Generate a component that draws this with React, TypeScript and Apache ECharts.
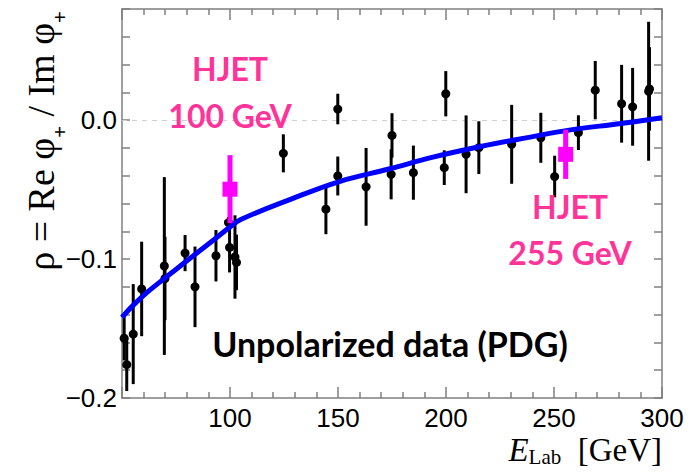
import React, { useEffect, useRef } from "react";
import * as echarts from "echarts";

// PDG unpolarized data: beam energy (GeV), rho, error
const pdgE = [51.0, 52.2, 55.2, 59.1, 69.6, 69.9, 79.2, 83.8, 93.5, 99.3, 99.8, 102.3, 103.0, 124.7, 144.4, 149.9, 149.9, 163.0, 175.0, 174.6, 184.9, 199.9, 199.2, 209.3, 215.2, 230.4, 243.9, 250.3, 261.3, 269.1, 281.3, 286.4, 293.8, 294.2];
const pdgRho = [-0.157, -0.176, -0.154, -0.1215, -0.105, -0.114, -0.0957, -0.12, -0.0976, -0.0737, -0.0916, -0.0985, -0.1024, -0.0239, -0.0641, 0.008, -0.0402, -0.048, -0.011, -0.039, -0.0378, 0.019, -0.0342, -0.0246, -0.0198, -0.0174, -0.0127, -0.0406, -0.009, 0.0216, 0.0118, 0.0096, 0.0208, 0.0225];
const pdgErr = [0.016, 0.019, 0.036, 0.034, 0.064, 0.03, 0.013, 0.029, 0.0185, 0.004, 0.018, 0.03, 0.02, 0.0137, 0.018, 0.011, 0.014, 0.028, 0.016, 0.018, 0.0195, 0.0163, 0.0125, 0.028, 0.019, 0.0284, 0.018, 0.015, 0.0125, 0.021, 0.028, 0.028, 0.05, 0.03];

// HJET measurements
const hjetE = [100, 255.4];
const hjetRho = [-0.0497, -0.0246];
const hjetErr = [0.0245, 0.0177];

// Fit curve
const fitE = [50, 55, 62, 70, 79, 93, 100, 105, 128, 151, 174, 193, 216, 239, 257, 281, 300];
const fitRho = [-0.142, -0.1335, -0.1235, -0.1135, -0.1025, -0.0855, -0.077, -0.0715, -0.057, -0.044, -0.035, -0.027, -0.019, -0.0122, -0.0072, -0.0024, 0.0017];

const xMin = 50;
const xMax = 300;
const yMin = -0.2;
const yMax = 0.08;

const AXIS_COLOR = "#7f7f7f";
const SANS = "'Liberation Sans', Arial, sans-serif";
const SERIF = "'Liberation Serif', 'Times New Roman', serif";
const BOLD = "Lato, 'Open Sans', sans-serif";
const PINK = "#ff3399";

function yLabel(v: number): string {
  const r = Math.round(v * 100) / 100;
  if (Math.abs(r * 10 - Math.round(r * 10)) > 1e-6) return "";
  if (Math.abs(r) < 1e-9) return "0.0";
  return (r < 0 ? "\u2212" : "") + Math.abs(r).toFixed(1);
}

export default function App() {
  const ref = useRef<HTMLDivElement>(null);
  useEffect(() => {
    if (!ref.current) return;
    const chart = echarts.init(ref.current, null, { renderer: "svg" });

    const xCommon = {
      type: "value",
      min: xMin,
      max: xMax,
      interval: 50,
      axisLine: { show: true, onZero: false, lineStyle: { color: AXIS_COLOR, width: 1.5 } },
      axisTick: { show: true, inside: true, length: 11, lineStyle: { color: AXIS_COLOR, width: 1.5 } },
      minorTick: { show: true, splitNumber: 5, length: 6, lineStyle: { color: AXIS_COLOR, width: 1.5 } },
      splitLine: { show: false },
      minorSplitLine: { show: false },
    };
    const yCommon = {
      type: "value",
      min: yMin,
      max: yMax,
      interval: 0.02,
      axisLine: { show: true, onZero: false, lineStyle: { color: AXIS_COLOR, width: 1.5 } },
      axisTick: { show: true, inside: true, length: 8, lineStyle: { color: AXIS_COLOR, width: 1.5 } },
      splitLine: { show: false },
    };

    const option: any = {
      animation: false,
      backgroundColor: "#ffffff",
      grid: { left: 122, right: 29, top: 9, bottom: 74, containLabel: false },
      xAxis: [
        {
          ...xCommon,
          position: "bottom",
          axisLabel: {
            show: true,
            margin: 7,
            fontSize: 26,
            fontFamily: SANS,
            color: "#000",
            formatter: (v: number) => (v === xMin ? "" : String(v)),
          },
        },
        { ...xCommon, position: "top", axisLabel: { show: false } },
      ],
      yAxis: [
        {
          ...yCommon,
          position: "left",
          axisLabel: {
            show: true,
            margin: 5,
            fontSize: 26,
            fontFamily: SANS,
            color: "#000",
            formatter: yLabel,
          },
        },
        { ...yCommon, position: "right", axisLabel: { show: false } },
      ],
      series: [
        {
          type: "custom",
          name: "PDG",
          xAxisIndex: 0,
          yAxisIndex: 0,
          z: 2,
          data: pdgE.map((e, i) => [e, pdgRho[i], pdgErr[i]]),
          renderItem: (params: any, api: any) => {
            const x = api.value(0);
            const y = api.value(1);
            const e = api.value(2);
            const p = api.coord([x, y]);
            const t = api.coord([x, y + e]);
            const b = api.coord([x, y - e]);
            return {
              type: "group",
              children: [
                { type: "line", shape: { x1: p[0], y1: t[1], x2: p[0], y2: b[1] }, style: { stroke: "#000", lineWidth: 3 } },
                { type: "circle", shape: { cx: p[0], cy: p[1], r: 4.5 }, style: { fill: "#000" } },
              ],
            };
          },
        },
        {
          type: "line",
          name: "fit",
          xAxisIndex: 0,
          yAxisIndex: 0,
          z: 3,
          smooth: 0.4,
          showSymbol: false,
          data: fitE.map((e, i) => [e, fitRho[i]]),
          lineStyle: { color: "#0000ff", width: 5 },
          markLine: {
            silent: true,
            symbol: ["none", "none"],
            label: { show: false },
            lineStyle: { type: [5, 5], color: "#cfcfcf", width: 1 },
            data: [{ yAxis: 0 }],
            z: 1,
          },
        },
        {
          type: "custom",
          name: "HJET",
          xAxisIndex: 0,
          yAxisIndex: 0,
          z: 4,
          data: hjetE.map((e, i) => [e, hjetRho[i], hjetErr[i]]),
          renderItem: (params: any, api: any) => {
            const x = api.value(0);
            const y = api.value(1);
            const e = api.value(2);
            const p = api.coord([x, y]);
            const t = api.coord([x, y + e]);
            const b = api.coord([x, y - e]);
            return {
              type: "group",
              children: [
                { type: "line", shape: { x1: p[0], y1: t[1], x2: p[0], y2: b[1] }, style: { stroke: "#ff00ff", lineWidth: 5 } },
                { type: "rect", shape: { x: p[0] - 7.5, y: p[1] - 7.5, width: 15, height: 15 }, style: { fill: "#ff00ff" } },
              ],
            };
          },
        },
      ],
      graphic: [
        {
          type: "text",
          x: 230,
          y: 92,
          z: 10,
          style: {
            text: "HJET\n100 GeV",
            fill: PINK,
            fontFamily: BOLD,
            fontWeight: "bold",
            fontSize: 32,
            lineHeight: 47,
            align: "center",
            verticalAlign: "middle",
            textAlign: "center",
            textVerticalAlign: "middle",
          },
        },
        {
          type: "text",
          x: 570,
          y: 229,
          z: 10,
          style: {
            text: "HJET\n255 GeV",
            fill: PINK,
            fontFamily: BOLD,
            fontWeight: "bold",
            fontSize: 32,
            lineHeight: 46,
            align: "center",
            verticalAlign: "middle",
            textAlign: "center",
            textVerticalAlign: "middle",
          },
        },
        {
          type: "text",
          x: 390,
          y: 343,
          z: 10,
          style: {
            text: "Unpolarized data (PDG)",
            fill: "#000",
            fontFamily: BOLD,
            fontWeight: "bold",
            fontSize: 34,
            align: "center",
            verticalAlign: "middle",
            textAlign: "center",
            textVerticalAlign: "middle",
          },
        },
        {
          type: "text",
          x: 42,
          y: 141,
          rotation: Math.PI / 2,
          z: 10,
          style: {
            text: "{m|\u03c1 = Re \u03c6}{s|+}{m| / Im \u03c6}{s|+}",
            fill: "#000",
            align: "center",
            verticalAlign: "middle",
            textAlign: "center",
            textVerticalAlign: "middle",
            rich: {
              m: { fontFamily: SERIF, fontSize: 38, lineHeight: 40, verticalAlign: "top", fill: "#000" },
              s: { fontFamily: SANS, fontSize: 20, lineHeight: 24, padding: [28, 0, 0, 0], verticalAlign: "top", fill: "#000" },
            },
          },
        },
        {
          type: "text",
          x: 662,
          y: 452,
          z: 10,
          style: {
            text: "{e|E}{sub|Lab}{m|  [GeV]}",
            fill: "#000",
            align: "right",
            verticalAlign: "middle",
            textAlign: "right",
            textVerticalAlign: "middle",
            rich: {
              e: { fontFamily: SERIF, fontStyle: "italic", fontSize: 33, lineHeight: 37, verticalAlign: "top", fill: "#000" },
              sub: { fontFamily: SERIF, fontSize: 21, lineHeight: 22, padding: [13, 0, 0, 0], verticalAlign: "top", fill: "#000" },
              m: { fontFamily: SERIF, fontSize: 33, lineHeight: 37, verticalAlign: "top", fill: "#000" },
            },
          },
        },
      ],
    };

    chart.setOption(option);
    return () => chart.dispose();
  }, []);

  return (
    <div
      ref={ref}
      style={{ position: "absolute", left: 0, top: 0, width: 691, height: 472, background: "#fff" }}
    />
  );
}
